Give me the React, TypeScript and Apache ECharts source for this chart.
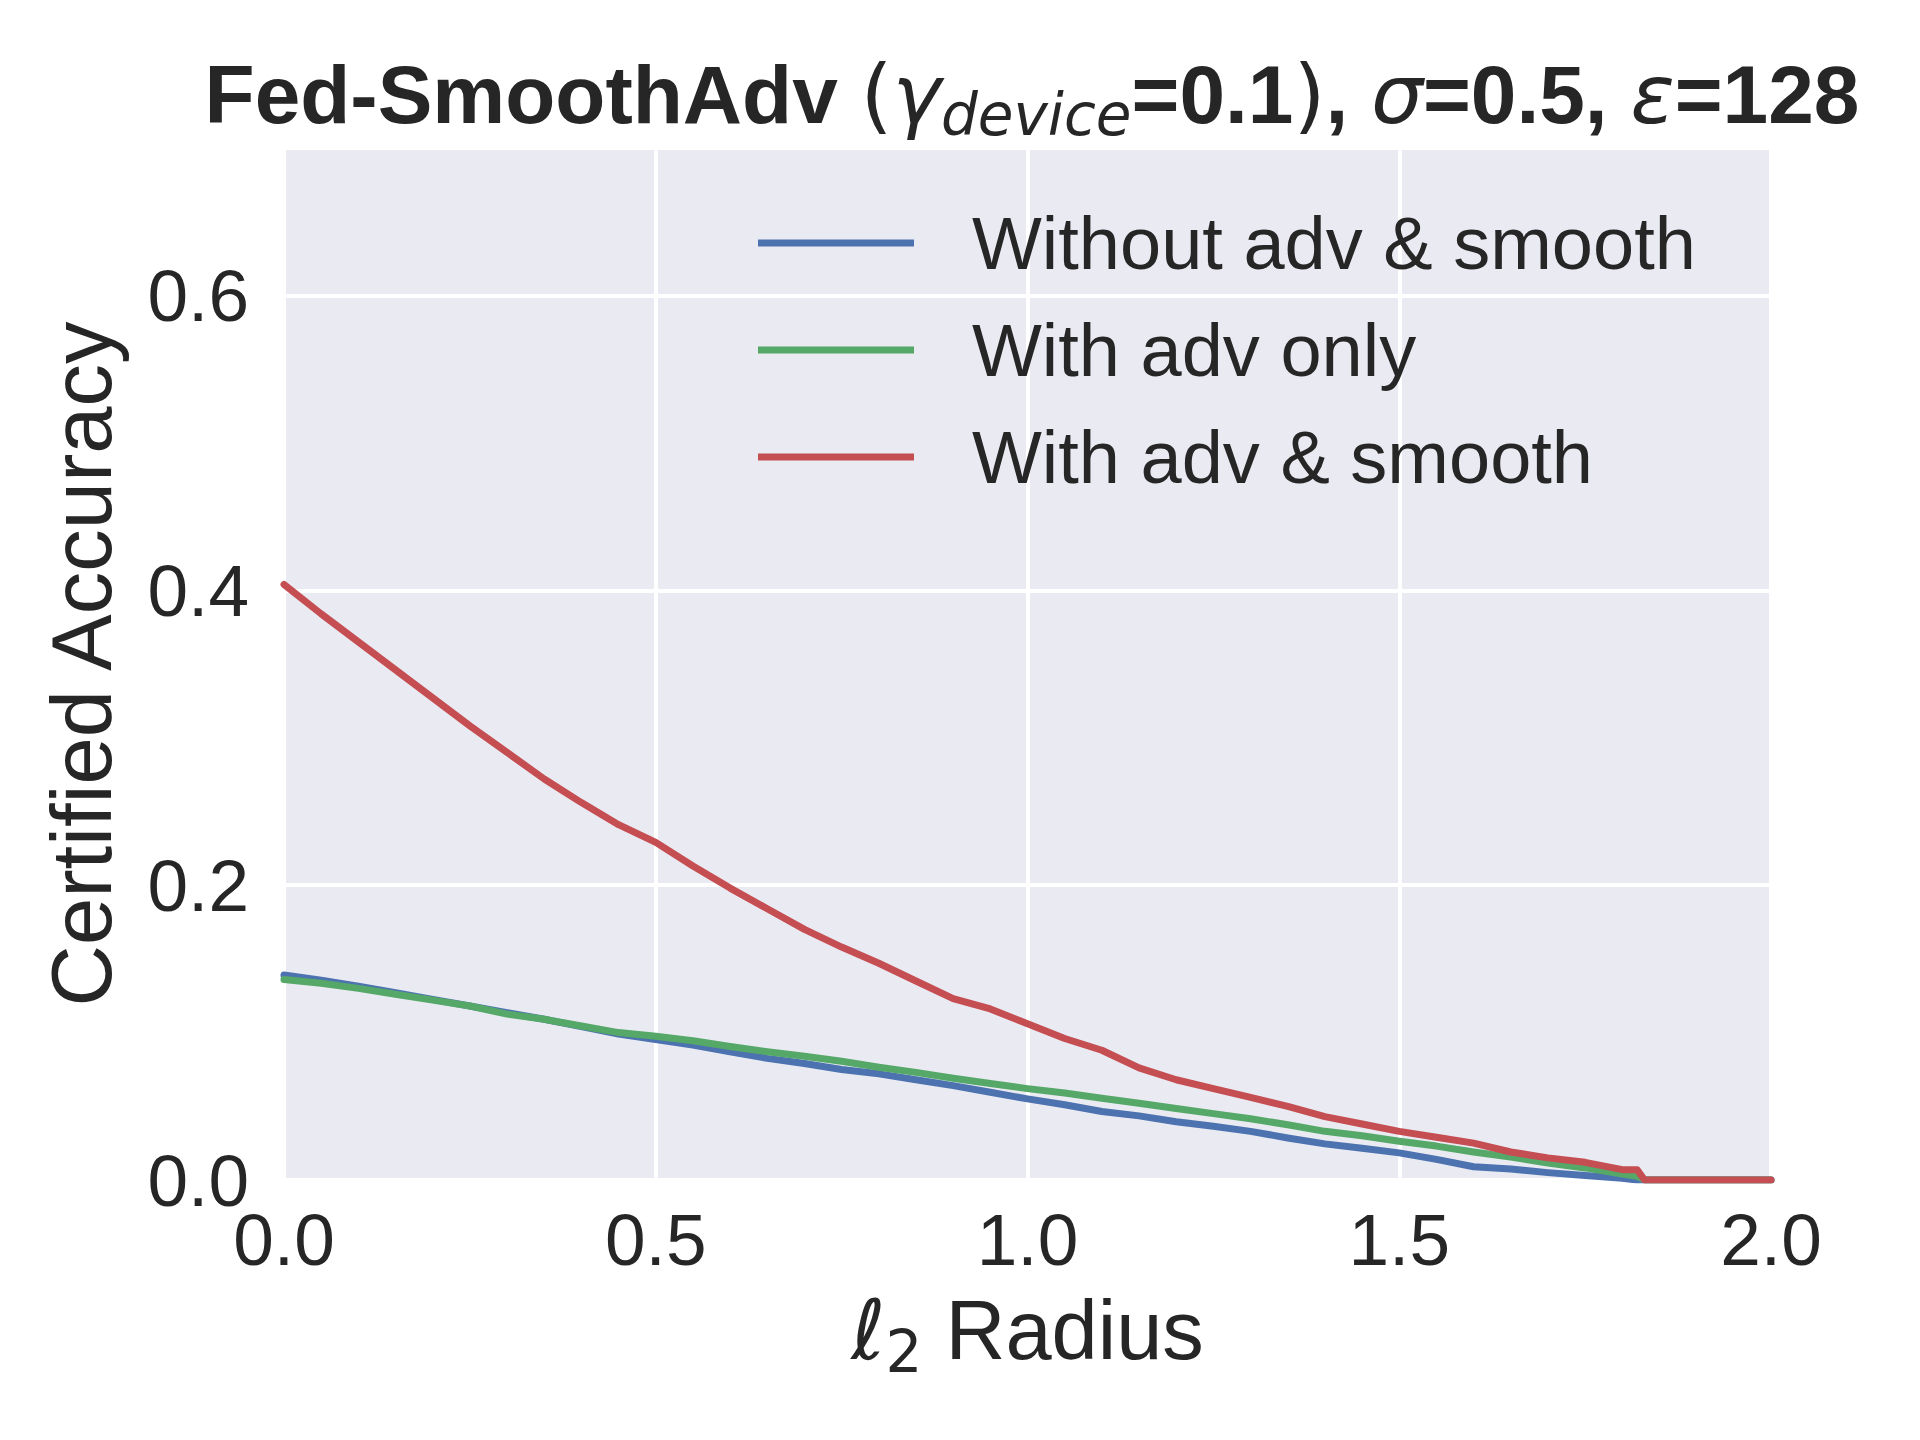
import React, { useEffect, useRef } from 'react';
import * as echarts from 'echarts';

const radius = [
  0, 0.05, 0.1, 0.15, 0.2, 0.25, 0.3, 0.35, 0.4, 0.45, 0.5, 0.55, 0.6, 0.65, 0.7, 0.75, 0.8, 0.85, 0.9, 0.95,
  1.0, 1.05, 1.1, 1.15, 1.2, 1.25, 1.3, 1.35, 1.4, 1.45, 1.5, 1.55, 1.6, 1.65, 1.7, 1.75, 1.8,
  1.82, 1.83, 1.85, 1.9, 1.95, 2.0,
];

const withoutAdvSmooth = [
  0.139, 0.1355, 0.1315, 0.127, 0.1225, 0.118, 0.1135, 0.109, 0.104, 0.099, 0.0953, 0.0915, 0.087, 0.0825, 0.079,
  0.0749, 0.072, 0.068, 0.064, 0.0595, 0.055, 0.051, 0.0465, 0.0435, 0.0395, 0.0365, 0.033, 0.0285, 0.0245, 0.0215,
  0.0184, 0.014, 0.009, 0.0075, 0.005, 0.003, 0.0012,
  0, 0, 0, 0, 0, 0,
];

const withAdvOnly = [
  0.136, 0.1335, 0.13, 0.126, 0.122, 0.118, 0.1125, 0.109, 0.1045, 0.1, 0.0975, 0.0945, 0.0905, 0.087, 0.084,
  0.0805, 0.0765, 0.073, 0.069, 0.0655, 0.062, 0.059, 0.0555, 0.052, 0.0485, 0.045, 0.0415, 0.0375, 0.033, 0.03,
  0.0263, 0.023, 0.019, 0.0155, 0.0115, 0.0082, 0.004,
  0.0026, 0, 0, 0, 0, 0,
];

const withAdvSmooth = [
  0.404, 0.384, 0.365, 0.346, 0.327, 0.308, 0.29, 0.272, 0.256, 0.241, 0.229, 0.213, 0.198, 0.184, 0.17,
  0.158, 0.147, 0.135, 0.123, 0.116, 0.106, 0.096, 0.088, 0.076, 0.068, 0.062, 0.056, 0.05, 0.043, 0.038,
  0.033, 0.029, 0.025, 0.019, 0.015, 0.012, 0.007,
  0.007, 0, 0, 0, 0, 0,
];

const seriesNames = ['Without adv & smooth', 'With adv only', 'With adv & smooth'];
const seriesColors = ['#4C72B0', '#55A868', '#C44E52'];
const seriesValues = [withoutAdvSmooth, withAdvOnly, withAdvSmooth];

const TEXT = '#262626';
const SANS = 'Liberation Sans, Arial, sans-serif';
const MATH = 'DejaVu Sans, sans-serif';

export default function App() {
  const ref = useRef<HTMLDivElement>(null);

  useEffect(() => {
    document.body.style.margin = '0';
    if (!ref.current) return;
    const chart = echarts.init(ref.current, undefined, { renderer: 'svg' });

    const option: any = {
      animation: false,
      backgroundColor: '#ffffff',
      title: {
        left: 1032,
        top: 44,
        padding: 0,
        textAlign: 'center',
        text: '{b|Fed-SmoothAdv }{p|(}{m|γ}{s|device}{b|=0.1}{p|)}{b|, }{m|σ}{b|=0.5, }{m|ε}{b|=128}',
        textStyle: {
          fontWeight: 'normal',
          rich: {
            b: { fontSize: 82, fontWeight: 'bold', fontFamily: SANS, color: TEXT, lineHeight: 100 },
            p: { fontSize: 82, fontWeight: 'normal', fontFamily: MATH, color: TEXT, lineHeight: 100 },
            m: { fontSize: 82, fontWeight: 'normal', fontStyle: 'italic', fontFamily: MATH, color: TEXT, lineHeight: 100 },
            s: {
              fontSize: 58, fontWeight: 'normal', fontStyle: 'italic', fontFamily: MATH, color: TEXT,
              lineHeight: 58, padding: [42, 0, 0, 0],
            },
          },
        },
      },
      legend: {
        orient: 'vertical',
        left: 758,
        top: 206,
        padding: 0,
        itemWidth: 156,
        itemHeight: 7,
        itemGap: 33,
        icon: 'rect',
        data: seriesNames,
        formatter: '{t|{name}}',
        textStyle: {
          color: TEXT,
          fontFamily: SANS,
          fontSize: 74,
          lineHeight: 74,
          rich: {
            t: { fontSize: 74, fontFamily: SANS, color: TEXT, lineHeight: 74, padding: [0, 0, 0, 53] },
          },
        },
      },
      grid: {
        left: 284,
        right: 149,
        top: 148,
        bottom: 260,
        show: true,
        backgroundColor: '#EAEAF2',
        borderWidth: 0,
        containLabel: false,
      },
      xAxis: {
        type: 'value',
        min: 0,
        max: 2,
        interval: 0.5,
        axisLine: { show: false },
        axisTick: { show: false },
        splitLine: { show: true, lineStyle: { color: '#ffffff', width: 4 } },
        axisLabel: {
          color: TEXT,
          fontFamily: SANS,
          fontSize: 73,
          lineHeight: 73,
          margin: 23,
          formatter: (v: number) => v.toFixed(1),
        },
        name: '{m|ℓ}{s|2}{n| Radius}',
        nameLocation: 'middle',
        nameGap: 100,
        nameTextStyle: {
          rich: {
            m: { fontSize: 83, fontStyle: 'italic', fontFamily: MATH, color: TEXT, lineHeight: 100 },
            s: { fontSize: 58, fontFamily: MATH, color: TEXT, lineHeight: 58, padding: [42, 0, 0, 0] },
            n: { fontSize: 83, fontFamily: SANS, color: TEXT, lineHeight: 100 },
          },
        },
      },
      yAxis: {
        type: 'value',
        min: 0,
        max: 0.7,
        interval: 0.2,
        axisLine: { show: false },
        axisTick: { show: false },
        splitLine: { show: true, lineStyle: { color: '#ffffff', width: 4 } },
        axisLabel: {
          color: TEXT,
          fontFamily: SANS,
          fontSize: 73,
          margin: 35,
          showMaxLabel: false,
          formatter: (v: number) => (Math.abs(v - 0.7) < 1e-6 ? '' : v.toFixed(1)),
        },
        name: 'Certified Accuracy',
        nameLocation: 'middle',
        nameGap: 160,
        nameTextStyle: { color: TEXT, fontFamily: SANS, fontSize: 85, lineHeight: 85 },
      },
      series: seriesNames.map((name, k) => ({
        name,
        type: 'line',
        symbol: 'none',
        clip: true,
        data: radius.map((r, i) => [r, seriesValues[k][i]]),
        lineStyle: { color: seriesColors[k], width: 7, cap: 'round', join: 'round' },
        itemStyle: { color: seriesColors[k] },
      })),
    };

    chart.setOption(option);
    return () => chart.dispose();
  }, []);

  return <div ref={ref} style={{ width: 1920, height: 1440 }} />;
}
